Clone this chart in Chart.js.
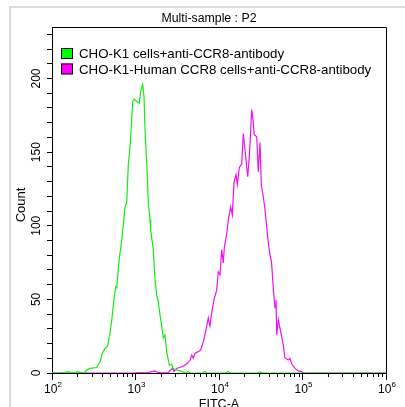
<!DOCTYPE html>
<html><head><meta charset="utf-8">
<script src="https://cdn.jsdelivr.net/npm/chart.js@4.4.1/dist/chart.umd.min.js"></script>
<style>html,body{margin:0;padding:0;background:#fff;overflow:hidden}</style>
</head><body>
<canvas id="c" width="405" height="407"></canvas>
<script>
// ---- data ----
const chartTitle = 'Multi-sample : P2';
const xAxisTitle = 'FITC-A';
const yAxisTitle = 'Count';
const seriesLabels = ['CHO-K1 cells+anti-CCR8-antibody', 'CHO-K1-Human CCR8 cells+anti-CCR8-antibody'];
const seriesColors = ['#10ee10', '#f010f0'];
const legendBoxColors = ['#00ff00', '#ff00ff'];

const fitcGreen = [100,125,155,174,205,242,260,285,343,376,397,431,462,495,523,553,579,596,640,671,715,749,785,820,860,926,967,1034,1111,1154,1220,1265,1300,1362,1423,1492,1521,1563,1634,1712,1794,1875,1966,2060,2153,2256,2364,2540,2713,2836,3114,3411,4000,4256,4500,6400,6790,7200,12000,12820,13600,29000,30980,33000,100000,1000000];
const countGreen = [0,0,0.7,0.3,0.7,0,2,3.1,3.7,7.5,12.9,16.7,18,27.2,37.4,50.3,58.5,57.8,78.2,86.4,100.7,112.9,115.6,141.5,153.7,184.4,186,184.4,183.3,191.2,195.9,187.8,165.3,142.9,115.6,104.1,97.3,91.8,83.7,63.3,53.1,48.3,39.5,32,23.8,25.9,14.3,5.4,5.8,3.1,2,1.4,0,1,0,0,1,0,0,1,0,0,0.7,0,0,0];

const fitcMagenta = [100,933,1132,1373,1563,1712,1875,2135,2470,2589,2790,2891,3114,3411,3737,4105,4496,4712,4924,5160,5651,6037,6486,6989,7444,7801,8177,8712,9386,9809,10280,10770,11260,11570,12370,12930,13810,14430,15120,15980,16570,17510,18710,19550,20890,22070,23070,24640,25320,26470,28280,29560,30980,32100,33930,35550,38940,40810,42540,44690,46850,48150,49100,51320,56340,58900,61710,67600,70830,74240,81330,89060,97810,102200,122900,1000000];
const countMagenta = [0,0,0.3,0.1,0.9,1.4,0.2,0.1,0.2,1.7,3.2,1,3.2,3.7,4.8,6.1,8.8,12.2,10,13.4,14.5,15.6,21.1,29.3,37.4,32,40.8,49.7,56.5,68.7,66.7,83.7,74.8,85,94.6,104.1,112.9,107.5,129.3,134.7,127.9,139.5,142.2,162.6,146.9,133.3,146.9,178.9,174.1,161.9,160.5,136.7,156.5,127.9,119.7,111,88.4,80.3,75.5,57.8,44.2,49.7,25.9,36.1,24.5,19,10.2,8.8,9.9,6.1,3.1,1.4,0.9,0,0,0];

const xMin = 100, xMax = 1000000;
const yMin = 0, yMax = 235;
const xDecadeTicks = [100, 1000, 10000, 100000, 1000000];
const xTickExponents = ['2', '3', '4', '5', '6'];
const xMinorMultipliers = [2, 3, 4, 5, 6, 7, 8, 9];
const yTickMarks = [0,10,20,30,40,50,60,70,80,90,100,110,120,130,140,150,160,170,180,190,200,210,220,230];
const yTickLabels = [0, 50, 100, 150, 200];

const FONT = '"Liberation Sans", Arial, Helvetica, sans-serif';

function toPoints(xs, ys) { return xs.map((x, i) => ({ x: x, y: ys[i] })); }

const decorPlugin = {
  id: 'decor',
  beforeDraw(chart) {
    const ctx = chart.ctx;
    ctx.save();
    ctx.fillStyle = '#fff';
    ctx.fillRect(0, 0, chart.width, chart.height);
    ctx.strokeStyle = '#dcdcdc';
    ctx.lineWidth = 2;
    ctx.beginPath();
    ctx.moveTo(10, chart.height + 5);
    ctx.lineTo(10, 7);
    ctx.lineTo(chart.width + 5, 7);
    ctx.stroke();
    ctx.restore();
  },
  afterDraw(chart) {
    const ctx = chart.ctx;
    const a = chart.chartArea;
    const xs = chart.scales.x, ys = chart.scales.y;
    ctx.save();
    // plot box top/right
    ctx.strokeStyle = '#000';
    ctx.lineWidth = 1;
    ctx.beginPath();
    ctx.moveTo(Math.round(a.left) + 0.5, Math.round(a.top) + 0.5);
    ctx.lineTo(Math.round(a.right) + 0.5, Math.round(a.top) + 0.5);
    ctx.lineTo(Math.round(a.right) + 0.5, Math.round(a.bottom) + 0.5);
    ctx.stroke();
    // x minor ticks
    ctx.beginPath();
    xDecadeTicks.slice(0, -1).forEach(d => {
      xMinorMultipliers.forEach(m => {
        const px = Math.round(xs.getPixelForValue(d * m)) + 0.5;
        ctx.moveTo(px, a.bottom);
        ctx.lineTo(px, a.bottom + 4);
      });
    });
    ctx.stroke();
    // x tick labels 10^n
    ctx.fillStyle = '#000';
    ctx.textBaseline = 'alphabetic';
    xDecadeTicks.forEach((v, i) => {
      const px = xs.getPixelForValue(v);
      ctx.font = '12px ' + FONT;
      const wb = ctx.measureText('10').width;
      ctx.font = '8px ' + FONT;
      const we = ctx.measureText(xTickExponents[i]).width;
      const x0 = px - (wb + we) / 2 + 1;
      ctx.font = '12px ' + FONT;
      ctx.textAlign = 'left';
      ctx.fillText('10', x0, 393);
      ctx.font = '8px ' + FONT;
      ctx.fillText(xTickExponents[i], x0 + wb, 387);
    });
    // y tick labels rotated
    ctx.font = '12px ' + FONT;
    ctx.textAlign = 'center';
    yTickLabels.forEach(v => {
      const py = ys.getPixelForValue(v);
      ctx.save();
      ctx.translate(39.5, py);
      ctx.rotate(-Math.PI / 2);
      ctx.fillText(String(v), 0, 0);
      ctx.restore();
    });
    // axis titles
    ctx.font = '13px ' + FONT;
    ctx.save();
    ctx.translate(25, (a.top + a.bottom) / 2 + 5);
    ctx.rotate(-Math.PI / 2);
    ctx.fillText(yAxisTitle, 0, 0);
    ctx.restore();
    ctx.font = '12.5px ' + FONT;
    ctx.fillText(xAxisTitle, (a.left + a.right) / 2, 408);
    // title
    ctx.font = '12.3px ' + FONT;
    ctx.fillText(chartTitle, 209, 21.5);
    // legend
    ctx.textAlign = 'left';
    ctx.font = '13.3px ' + FONT;
    chart.data.datasets.forEach((ds, i) => {
      const by = 48 + i * 15.5;
      ctx.fillStyle = legendBoxColors[i];
      ctx.fillRect(61, by, 12, 10.5);
      ctx.strokeStyle = '#000';
      ctx.lineWidth = 1;
      ctx.strokeRect(61.5, by + 0.5, 11, 10);
      ctx.fillStyle = '#000';
      ctx.fillText(ds.label, 79, by + 10.3);
    });
    ctx.restore();
  }
};

new Chart(document.getElementById('c'), {
  type: 'line',
  data: {
    datasets: [
      { label: seriesLabels[0], data: toPoints(fitcGreen, countGreen), borderColor: seriesColors[0], borderWidth: 1.2, pointRadius: 0, tension: 0, fill: false },
      { label: seriesLabels[1], data: toPoints(fitcMagenta, countMagenta), borderColor: seriesColors[1], borderWidth: 1.2, pointRadius: 0, tension: 0, fill: false }
    ]
  },
  options: {
    responsive: false,
    animation: false,
    events: [],
    layout: { padding: { left: 52, top: 27, right: 19, bottom: 34 } },
    plugins: { legend: { display: false }, title: { display: false }, tooltip: { enabled: false } },
    scales: {
      x: {
        type: 'logarithmic', min: xMin, max: xMax,
        afterBuildTicks(s) { s.ticks = xDecadeTicks.map(v => ({ value: v, major: true })); },
        afterFit(s) { s.height = 0; },
        ticks: { display: false },
        grid: { display: true, drawOnChartArea: false, drawTicks: true, tickLength: 7, color: '#000', lineWidth: 1 },
        border: { display: true, color: '#000', width: 1 }
      },
      y: {
        type: 'linear', min: yMin, max: yMax,
        afterBuildTicks(s) { s.ticks = yTickMarks.map(v => ({ value: v })); },
        afterFit(s) { s.width = 0; },
        ticks: { display: false },
        grid: { display: true, drawOnChartArea: false, drawTicks: true, tickLength: 5, color: '#000', lineWidth: 1 },
        border: { display: true, color: '#000', width: 1 }
      }
    }
  },
  plugins: [decorPlugin]
});
</script>
</body></html>
